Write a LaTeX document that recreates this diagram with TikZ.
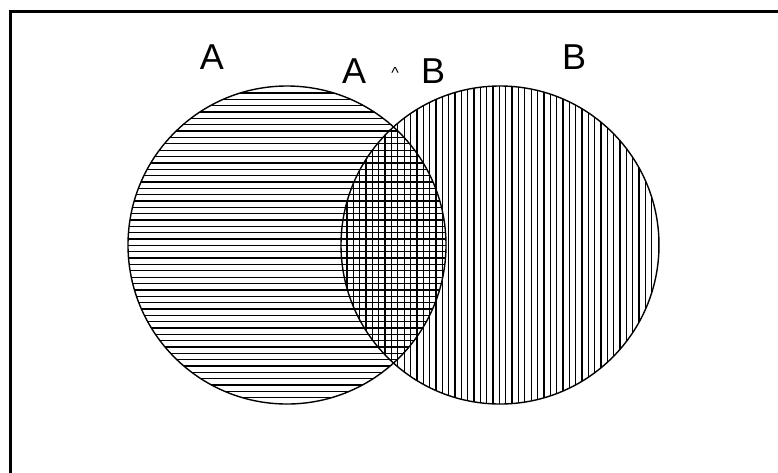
\documentclass[tikz,border=0pt]{standalone}
\usepackage{fontspec}
\setmainfont{Liberation Sans}
\usetikzlibrary{positioning}

\begin{document}
\begin{tikzpicture}[x=1pt, y=-1pt,
    setcirc/.style={circle, draw, line width=1.4pt, minimum size=318pt, inner sep=0pt},
    hatch/.style={line width=1.3pt},
    lab/.style={font=\fontsize{36}{40}\selectfont, inner sep=0pt, anchor=base}
]
    \useasboundingbox (0,0) rectangle (778,472);

    % frame (runs off the page right and below)
    \draw[line width=3pt] (10,11) rectangle (820,500);

    \coordinate (cA) at (287,245);
    \coordinate (cB) at (500,245);

    % horizontal hatching of A
    \begin{scope}
        \clip (cA) circle (159pt);
        \foreach \k in {0,...,49}
            \draw[hatch] (120,93+6.35*\k) -- (460,93+6.35*\k);
    \end{scope}

    % vertical hatching of B
    \begin{scope}
        \clip (cB) circle (159pt);
        \foreach \k in {0,...,49}
            \draw[hatch] (347+6.35*\k,80) -- (347+6.35*\k,410);
    \end{scope}

    % the two sets
    \node[setcirc] (setA) at (cA) {};
    \node[setcirc] (setB) at (cB) {};

    % labels
    \node[lab] (labA) at (212,69) {A};
    \node[lab] (labB) at (574,69) {B};
    \node[lab] (andA) at (354,83) {A};
    \node[lab, font=\fontsize{16}{18}\selectfont] (caret) at (395,78) {\textasciicircum};
    \node[lab] (andB) at (433,83) {B};
\end{tikzpicture}
\end{document}
